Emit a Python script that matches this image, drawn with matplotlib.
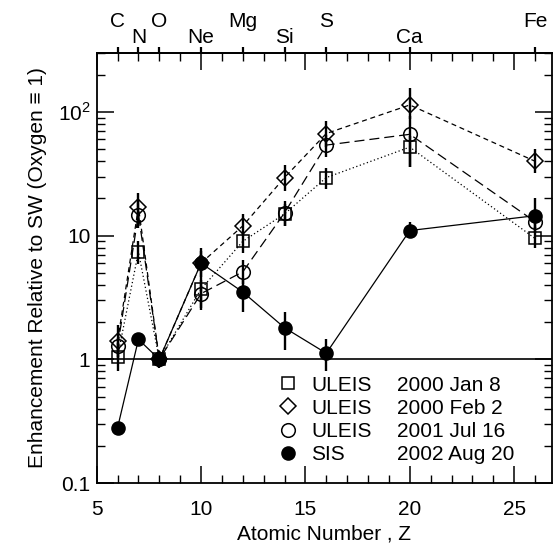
import matplotlib.pyplot as plt
from matplotlib.ticker import FixedLocator, FixedFormatter, LogLocator, MultipleLocator, NullFormatter
import numpy as np

plt.rcParams['font.family'] = ['Liberation Sans', 'DejaVu Sans']
plt.rcParams['mathtext.fontset'] = 'custom'
plt.rcParams['mathtext.rm'] = 'Liberation Sans'

# atomic numbers and element names
Z = [6, 7, 8, 10, 12, 14, 16, 20, 26]
elements = ['C', 'N', 'O', 'Ne', 'Mg', 'Si', 'S', 'Ca', 'Fe']
upper_row = ['C', 'O', 'Mg', 'S', 'Fe']

# ULEIS 2000 Jan 8
jan8 = [1.05, 7.4, 1.0, 3.7, 9.0, 15.0, 29.5, 52, 9.5]
jan8_lo = [0.8, 5.9, 0.9, 2.6, 7.3, 12.0, 24, 36, 8.0]
jan8_hi = [1.35, 9.0, 1.1, 4.5, 10.8, 18.0, 35, 64, 11.8]

# ULEIS 2000 Feb 2
feb2 = [1.4, 17.0, 1.0, 6.0, 12.0, 29.5, 67, 114, 40]
feb2_lo = [1.05, 13.0, 0.9, 4.5, 10.0, 23, 52, 88, 32]
feb2_hi = [1.9, 22.0, 1.1, 7.5, 15.0, 37, 85, 155, 50]

# ULEIS 2001 Jul 16
jul16 = [1.27, 14.8, 1.0, 3.4, 5.1, 15.3, 54, 66, 13]
jul16_lo = [1.0, 11.5, 0.9, 2.5, 4.1, 12.0, 43, 36, 10.5]
jul16_hi = [1.5, 19.0, 1.1, 4.4, 6.3, 19.0, 65, 92, 16]

# SIS 2002 Aug 20
aug20 = [0.28, 1.45, 1.0, 6.0, 3.5, 1.8, 1.12, 11.0, 14.5]
aug20_lo = [0.27, 1.3, 0.85, 4.6, 2.4, 1.2, 0.8, 9.5, 11.5]
aug20_hi = [0.29, 1.6, 1.1, 8.0, 4.4, 2.4, 1.45, 13.0, 20.0]

instruments = ['ULEIS', 'ULEIS', 'ULEIS', 'SIS']
dates = ['2000 Jan 8', '2000 Feb 2', '2001 Jul 16', '2002 Aug 20']

fig = plt.figure(figsize=(5.58, 5.48), dpi=100)
ax = fig.add_axes([0.1733, 0.1186, 0.8154, 0.7847])

ax.axhline(1, color='k', lw=1.2, zorder=1)

series = [
    (jan8, jan8_lo, jan8_hi, 's', 'none', 8.6, (0, (1, 2))),
    (feb2, feb2_lo, feb2_hi, 'D', 'none', 8.4, (0, (4, 3))),
    (jul16, jul16_lo, jul16_hi, 'o', 'none', 9.8, (0, (8, 4))),
    (aug20, aug20_lo, aug20_hi, 'o', 'k', 9.4, '-'),
]

handles = []
for vals, lo, hi, mk, fc, ms, ls in series:
    ax.plot(Z, vals, color='k', lw=0.9, ls=ls, zorder=2)
    ax.vlines(Z, lo, hi, color='k', lw=1.7, zorder=3)
    h, = ax.plot(Z, vals, ls='none', marker=mk, mfc=fc, mec='k',
                 ms=ms, mew=1.1, zorder=4)
    handles.append(h)

ax.set_xlim(5, 26.8)
ax.set_yscale('log')
ax.set_ylim(0.1, 300)

ax.xaxis.set_major_locator(MultipleLocator(5))
ax.xaxis.set_minor_locator(MultipleLocator(1))
ax.yaxis.set_major_locator(FixedLocator([0.1, 1, 10, 100]))
ax.yaxis.set_major_formatter(FixedFormatter(['0.1', '1', '10', r'$10^2$']))
ax.yaxis.set_minor_locator(LogLocator(base=10, subs=np.arange(2, 10)))
ax.yaxis.set_minor_formatter(NullFormatter())

ax.tick_params(which='both', direction='in', top=True, right=True,
               labelsize=15)
ax.tick_params(axis='x', which='major', pad=12)
ax.tick_params(axis='y', which='major', pad=4.5)
ax.tick_params(which='major', length=12, width=1.1)
ax.tick_params(which='minor', length=5.8, width=1.0)
for sp in ax.spines.values():
    sp.set_linewidth(1.3)

# element ticks and names along the top
sec = ax.secondary_xaxis('top')
sec.set_xticks(Z)
sec.tick_params(direction='out', length=4.5, width=1.6, labeltop=False)
sec.spines['top'].set_linewidth(1.3)
for z, el in zip(Z, elements):
    off = 23 if el in upper_row else 11.5
    ax.annotate(el, xy=(z, 1), xycoords=('data', 'axes fraction'),
                xytext=(0, off), textcoords='offset points',
                ha='center', va='center', fontsize=15)

ax.set_xlabel('Atomic Number , Z', fontsize=15, labelpad=4)
ax.set_ylabel('Enhancement Relative to SW (Oxygen \u2261 1)', fontsize=15,
              labelpad=8)

leg1 = ax.legend(handles, instruments, loc='upper left',
                 bbox_to_anchor=(0.3976, 0.25), frameon=False,
                 fontsize=15, handlelength=1.0, handletextpad=0.6,
                 labelspacing=0.2, borderpad=0, borderaxespad=0)
ax.add_artist(leg1)
blank = [plt.Line2D([], [], lw=0) for _ in dates]
ax.legend(blank, dates, loc='upper left', bbox_to_anchor=(0.659, 0.25),
          frameon=False, fontsize=15, handlelength=0, handletextpad=0,
          labelspacing=0.2, borderpad=0, borderaxespad=0)

fig.savefig('out.png', dpi=100)
